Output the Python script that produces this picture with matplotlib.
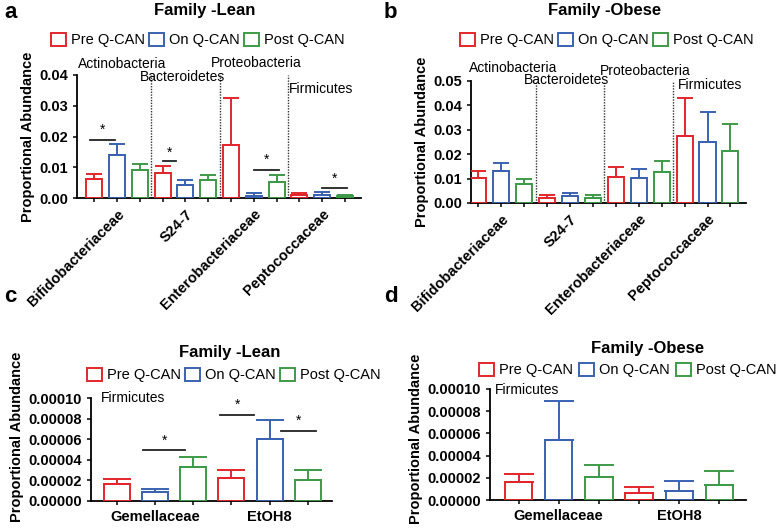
import numpy as np
import matplotlib.pyplot as plt
from matplotlib.ticker import FormatStrFormatter
from matplotlib.patches import Patch

plt.rcParams['font.family'] = ['Liberation Sans', 'DejaVu Sans']

W, H = 778, 531

groups = ['Pre Q-CAN', 'On Q-CAN', 'Post Q-CAN']
colors = ['#e3262b', '#3a62b0', '#3d9a48']

# upper panels: families
fam_top = ['Bifidobacteriaceae', 'S24-7', 'Enterobacteriaceae', 'Peptococcaceae']
phyla_top = ['Actinobacteria', 'Bacteroidetes', 'Proteobacteria', 'Firmicutes']

# a - lean, rows = family, cols = pre/on/post
lean_mean = [[0.0061, 0.0139, 0.0091],
             [0.0080, 0.0043, 0.0057],
             [0.0171, 0.0008, 0.0052],
             [0.0010, 0.0011, 0.0005]]
lean_err = [[0.0016, 0.0035, 0.0021],
            [0.0024, 0.0017, 0.0019],
            [0.0155, 0.0007, 0.0022],
            [0.0006, 0.0007, 0.0004]]

# b - obese
obese_mean = [[0.0104, 0.0132, 0.0078],
              [0.0019, 0.0027, 0.0021],
              [0.0107, 0.0103, 0.0126],
              [0.0274, 0.0251, 0.0215]]
obese_err = [[0.0029, 0.0031, 0.0021],
             [0.0014, 0.0014, 0.0012],
             [0.0042, 0.0038, 0.0048],
             [0.0156, 0.0124, 0.0110]]

# lower panels
fam_bot = ['Gemellaceae', 'EtOH8']
lean2_mean = [[0.0000168, 0.0000084, 0.0000329],
              [0.0000223, 0.0000600, 0.0000206]]
lean2_err = [[0.0000048, 0.0000029, 0.0000097],
             [0.0000080, 0.0000184, 0.0000097]]
obese2_mean = [[0.0000162, 0.0000544, 0.0000204],
               [0.0000066, 0.0000081, 0.0000138]]
obese2_err = [[0.0000075, 0.0000348, 0.0000111],
              [0.0000048, 0.0000093, 0.0000120]]


def px_axes(fig, l, r, t, b):
    return fig.add_axes([l / W, 1 - b / H, (r - l) / W, (b - t) / H])


def draw_bars(ax, means, errs, width, capsize):
    means = np.array(means)
    errs = np.array(errs)
    n = means.shape[0]
    for g in range(3):
        x = np.arange(n) * 3 + g
        ax.bar(x, means[:, g], width=width, facecolor='none',
               edgecolor=colors[g], linewidth=1.4, zorder=3)
        ax.errorbar(x, means[:, g], yerr=[np.zeros(n), errs[:, g]], fmt='none',
                    ecolor=colors[g], elinewidth=1.4, capsize=capsize,
                    capthick=1.4, zorder=3)
    return n


def style(ax, ylab_pos=0.5):
    for s in ['top', 'right']:
        ax.spines[s].set_visible(False)
    for s in ['left', 'bottom']:
        ax.spines[s].set_linewidth(1.3)
    ax.tick_params(axis='both', width=1.1, length=3, labelsize=10.5)
    for lab in ax.get_yticklabels():
        lab.set_fontweight('bold')
    ax.set_ylabel('Proportional Abundance', fontsize=10.5, fontweight='bold', labelpad=3)
    if ylab_pos != 0.5:
        ax.yaxis.label.set_y(ylab_pos)


def legend(fig, x, y, colsp=0.3):
    handles = [Patch(facecolor='none', edgecolor=c, linewidth=1.4) for c in colors]
    fig.legend(handles, groups, loc='center', bbox_to_anchor=(x / W, 1 - y / H),
               ncol=3, frameon=False, fontsize=10.5, handlelength=1.0,
               handleheight=1.0, handletextpad=0.35, columnspacing=colsp,
               borderpad=0.1)


def sig(ax, x0, x1, y, ystar):
    ax.plot([x0, x1], [y, y], color='#222222', lw=1.3, zorder=4)
    ax.text((x0 + x1) / 2, ystar, '*', ha='center', va='center', fontsize=10)


fig = plt.figure(figsize=(W / 100, H / 100), dpi=100)

# ---- a ----
ax = px_axes(fig, 77, 361, 75, 198)
draw_bars(ax, lean_mean, lean_err, 0.7, 6)
ax.set_xlim(-0.75, 11.7)
ax.set_ylim(0, 0.04)
ax.set_yticks([0, 0.01, 0.02, 0.03, 0.04])
ax.yaxis.set_major_formatter(FormatStrFormatter('%.2f'))
ax.set_xticks(np.arange(12))
ax.set_xticklabels(['' if i % 3 != 1 else fam_top[i // 3] for i in range(12)],
                   rotation=45, ha='right', rotation_mode='anchor',
                   fontweight='bold', fontsize=11)
style(ax)
for xv in [2.5, 5.5, 8.5]:
    ax.plot([xv, xv], [0, 0.04], color='#333333', lw=1.0, ls=(0, (1, 1)), clip_on=False)
pos = [(-0.7, 0.0435), (2.0, 0.0395), (5.1, 0.0438), (8.55, 0.0355)]
for (px, py), name in zip(pos, phyla_top):
    ax.text(px, py, name, fontsize=10, ha='left', va='center')
sig(ax, -0.2, 0.9, 0.019, 0.0222)
sig(ax, 3.0, 3.6, 0.012, 0.0148)
sig(ax, 7.0, 8.1, 0.0091, 0.0124)
sig(ax, 10.0, 11.1, 0.0034, 0.0062)
fig.text(205 / W, 1 - 10 / H, 'Family -Lean', ha='center', va='center',
         fontsize=12, fontweight='heavy')
legend(fig, 198, 40)

# ---- b ----
ax = px_axes(fig, 471, 746, 81, 203)
draw_bars(ax, obese_mean, obese_err, 0.7, 6)
ax.set_xlim(-0.32, 11.68)
ax.set_ylim(0, 0.05)
ax.set_yticks([0, 0.01, 0.02, 0.03, 0.04, 0.05])
ax.yaxis.set_major_formatter(FormatStrFormatter('%.2f'))
ax.set_xticks(np.arange(12))
ax.set_xticklabels(['' if i % 3 != 1 else fam_top[i // 3] for i in range(12)],
                   rotation=45, ha='right', rotation_mode='anchor',
                   fontweight='bold', fontsize=11)
style(ax)
for xv in [2.5, 5.5, 8.5]:
    ax.plot([xv, xv], [0, 0.05], color='#333333', lw=1.0, ls=(0, (1, 1)), clip_on=False)
pos = [(-0.43, 0.0555), (2.0, 0.0505), (5.3, 0.0540), (8.7, 0.0485)]
for (px, py), name in zip(pos, phyla_top):
    ax.text(px, py, name, fontsize=10, ha='left', va='center')
fig.text(605 / W, 1 - 10 / H, 'Family -Obese', ha='center', va='center',
         fontsize=12, fontweight='heavy')
legend(fig, 607, 40)

# ---- c ----
ax = px_axes(fig, 91, 332, 398, 501)
draw_bars(ax, lean2_mean, lean2_err, 0.68, 10)
ax.set_xlim(-0.67, 5.63)
ax.set_ylim(0, 0.0001)
ax.set_yticks(np.arange(0, 0.00011, 0.00002))
ax.yaxis.set_major_formatter(FormatStrFormatter('%.5f'))
ax.set_xticks(np.arange(6))
ax.set_xticklabels(['' if i % 3 != 1 else fam_bot[i // 3] for i in range(6)],
                   fontweight='bold', fontsize=11)
style(ax, 0.62)
ax.text(-0.4, 0.0001, 'Firmicutes', fontsize=10, ha='left', va='center')
sig(ax, 0.7, 1.8, 0.0000494, 0.0000585)
sig(ax, 2.7, 3.6, 0.0000839, 0.0000935)
sig(ax, 4.3, 5.2, 0.0000680, 0.0000775)
fig.text(230 / W, 1 - 353 / H, 'Family -Lean', ha='center', va='center',
         fontsize=12, fontweight='heavy')
legend(fig, 234, 375)

# ---- d ----
ax = px_axes(fig, 490, 746, 389, 500)
draw_bars(ax, obese2_mean, obese2_err, 0.68, 11)
ax.set_xlim(-0.71, 5.66)
ax.set_ylim(0, 0.0001)
ax.set_yticks(np.arange(0, 0.00011, 0.00002))
ax.yaxis.set_major_formatter(FormatStrFormatter('%.5f'))
ax.set_xticks(np.arange(6))
ax.set_xticklabels(['' if i % 3 != 1 else fam_bot[i // 3] for i in range(6)],
                   fontweight='bold', fontsize=11)
style(ax, 0.55)
ax.text(-0.6, 0.0000995, 'Firmicutes', fontsize=10, ha='left', va='center')
fig.text(648 / W, 1 - 349 / H, 'Family -Obese', ha='center', va='center',
         fontsize=12, fontweight='heavy')
legend(fig, 628, 370, colsp=0.45)

# panel letters
for lx, ly, s in [(4, 12, 'a'), (384, 12, 'b'), (4, 296, 'c'), (384, 296, 'd')]:
    fig.text(lx / W, 1 - ly / H, s, fontsize=16, fontweight='bold', va='center', ha='left')

fig.savefig('out.png', dpi=100)
